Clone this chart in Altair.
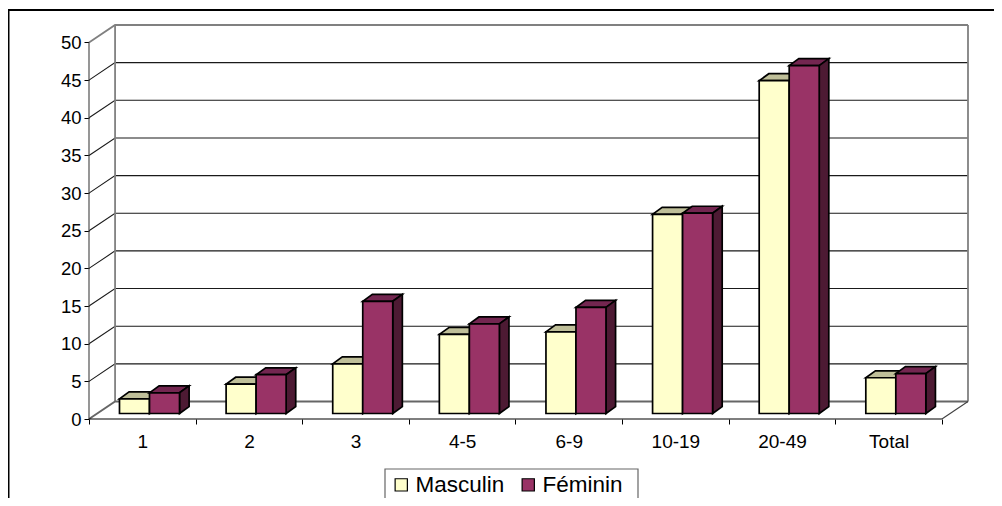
import altair as alt
import pandas as pd

categories = ["1", "2", "3", "4-5", "6-9", "10-19", "20-49", "Total"]
masculin = [1.95, 3.9, 6.6, 10.5, 10.85, 26.45, 44.2, 4.75]
feminin = [2.75, 5.15, 14.9, 11.9, 14.1, 26.6, 46.2, 5.3]
y_ticks = list(range(0, 55, 5))

FONT = "Liberation Sans"
C_M, C_M_TOP = "#FFFFCC", "#BFBF99"
C_F, C_F_TOP, C_F_SIDE = "#993366", "#732650", "#4D1A33"
WALL = "#808080"

# projected depth of the floor and walls, in axis units
DX, DY = 0.2445, 2.32
XMAX, YMAX = 8 + DX, 50 + DY
# bar geometry, in axis units
BAR_START, BAR_W = 0.286, 0.2815
BAR_BASE = 0.73
BAR_DX, BAR_DY = 0.09, 0.92

xs = alt.Scale(domain=[0, XMAX], nice=False, zero=False)
ys = alt.Scale(domain=[0, YMAX], nice=False, zero=False)


def seg_rows(points, key):
    return [{"x": x, "y": y, "k": i, "seg": key} for i, (x, y) in enumerate(points)]


def lines(rows, color, width):
    return alt.Chart(pd.DataFrame(rows)).mark_line(color=color, strokeWidth=width).encode(
        x=alt.X("x:Q", scale=xs, axis=None),
        y=alt.Y("y:Q", scale=ys, axis=None),
        detail="seg:N",
        order="k:Q",
    )


grid_rows, wall_rows, floor_rows = [], [], []
for v in y_ticks:
    pts = [(0, v), (DX, v + DY), (XMAX, v + DY)]
    if v == 0:
        floor_rows += seg_rows(pts, f"g{v}")
    elif v == 50:
        wall_rows += seg_rows(pts, f"g{v}")
    else:
        grid_rows += seg_rows(pts, f"g{v}")
wall_rows += seg_rows([(DX, DY), (DX, YMAX)], "back")
wall_rows += seg_rows([(XMAX, DY), (XMAX, YMAX)], "right")

front_rows = seg_rows([(0, 0), (0, 50)], "yaxis") + seg_rows([(8, 0), (XMAX, DY)], "diag")

floor_front = alt.Chart(pd.DataFrame(seg_rows([(0, 0), (8, 0)], "floor"))).mark_line(
    color="black", strokeWidth=1.2
).encode(
    x=alt.X(
        "x:Q",
        scale=xs,
        title=None,
        axis=alt.Axis(
            orient="bottom", values=list(range(9)), labels=False, domain=False, grid=False,
            tickSize=5, tickColor="black", tickWidth=1,
        ),
    ),
    y=alt.Y(
        "y:Q",
        scale=ys,
        title=None,
        axis=alt.Axis(
            orient="left", values=y_ticks, domain=False, grid=False, tickSize=5,
            tickColor="black", tickWidth=1, labelFont=FONT, labelFontSize=18.5,
            labelColor="black", labelPadding=3,
        ),
    ),
    order="k:Q",
)

label_expr = "[" + ",".join(f"'{c}'" for c in categories) + "][floor(datum.value)]"
label_axis = alt.Chart(pd.DataFrame(seg_rows([(0, 0), (8, 0)], "floor2"))).mark_line(
    opacity=0
).encode(
    x=alt.X(
        "x:Q",
        scale=xs,
        title=None,
        axis=alt.Axis(
            orient="bottom", values=[i + 0.5 for i in range(8)], labelExpr=label_expr,
            domain=False, grid=False, ticks=False, labelFont=FONT, labelFontSize=19,
            labelColor="black", labelPadding=13, labelAngle=0,
        ),
    ),
    y=alt.Y("y:Q", scale=ys, axis=None),
)

front, tops_m, sides_m, tops_f, sides_f = [], [], [], [], []
for i, (m, f) in enumerate(zip(masculin, feminin)):
    for j, (name, v, tops, sides) in enumerate(
        [("Masculin", m, tops_m, sides_m), ("Féminin", f, tops_f, sides_f)]
    ):
        x0 = i + BAR_START + j * BAR_W
        x1 = x0 + BAR_W
        top = v + BAR_BASE
        front.append({"x": x0, "x2": x1, "y": BAR_BASE, "y2": top, "series": name})
        key = f"{i}"
        tops += [
            {"x": x0, "y": top, "y2": top, "seg": key},
            {"x": x0 + BAR_DX, "y": top, "y2": top + BAR_DY, "seg": key},
            {"x": x1, "y": top, "y2": top + BAR_DY, "seg": key},
            {"x": x1 + BAR_DX, "y": top + BAR_DY, "y2": top + BAR_DY, "seg": key},
        ]
        sides += [
            {"x": x1, "y": BAR_BASE, "y2": top, "seg": key},
            {"x": x1 + BAR_DX, "y": BAR_BASE + BAR_DY, "y2": top + BAR_DY, "seg": key},
        ]


def faces(rows, fill):
    return alt.Chart(pd.DataFrame(rows)).mark_area(
        fill=fill, stroke="black", strokeWidth=1.7, orient="vertical", interpolate="linear"
    ).encode(
        x=alt.X("x:Q", scale=xs, axis=None),
        y=alt.Y("y:Q", scale=ys, axis=None, stack=None),
        y2="y2:Q",
        detail="seg:N",
    )


bars = alt.Chart(pd.DataFrame(front)).mark_rect(stroke="black", strokeWidth=1.7).encode(
    x=alt.X("x:Q", scale=xs, axis=None),
    x2="x2:Q",
    y=alt.Y("y:Q", scale=ys, axis=None),
    y2="y2:Q",
    color=alt.Color(
        "series:N",
        scale=alt.Scale(domain=["Masculin", "Féminin"], range=[C_M, C_F]),
        legend=alt.Legend(
            orient="none", legendX=296, legendY=443.5, direction="horizontal", title=None,
            padding=5, symbolType="square",
            symbolSize=150, symbolStrokeColor="black", symbolStrokeWidth=1.2,
            labelFont=FONT, labelFontSize=22.5, labelColor="black", labelOffset=3,
            columnPadding=12,
        ),
    ),
)

frame_l = alt.Chart(pd.DataFrame({"a": [0]})).mark_rule(color="black", strokeWidth=2).encode(
    x=alt.value(-80.5), y=alt.value(-15), y2=alt.value(480)
)
frame_t = alt.Chart(pd.DataFrame({"a": [0]})).mark_rule(color="black", strokeWidth=2).encode(
    x=alt.value(-81), x2=alt.value(905), y=alt.value(-15)
)
legend_box = alt.Chart(pd.DataFrame({"a": [0]})).mark_rect(
    fill="white", stroke="#666666", strokeWidth=1.2
).encode(
    x=alt.value(296), x2=alt.value(549), y=alt.value(444), y2=alt.value(490)
)

chart = alt.layer(
    frame_l, frame_t,
    lines(grid_rows, "#1a1a1a", 1.1),
    lines(wall_rows, WALL, 1.8),
    lines(floor_rows, "#666666", 1.9),
    lines(front_rows, "#404040", 1.1),
    floor_front,
    label_axis,
    faces(tops_m, C_M_TOP), faces(sides_m, C_F_SIDE),
    faces(tops_f, C_F_TOP), faces(sides_f, C_F_SIDE),
    bars,
    legend_box,
).resolve_axis(x="independent", y="independent").properties(
    width=879, height=394, autosize="none", background="white",
    padding={"left": 81, "top": 17, "right": 26, "bottom": 79},
).configure_view(stroke=None)

chart.save("out.html", embed_options={"renderer": "svg", "actions": False})
